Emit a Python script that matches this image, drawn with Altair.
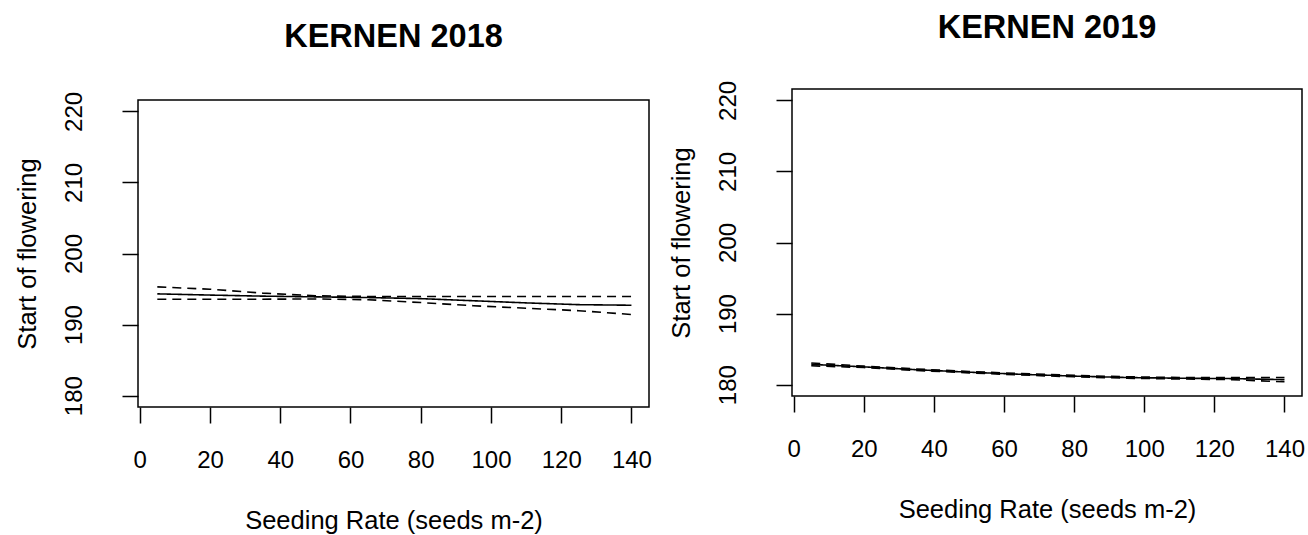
import altair as alt
import pandas as pd

# ---- data ----
seed_rate = [5, 20, 35, 50, 65, 80, 95, 110, 125, 140]

fit_2018 = [194.32, 194.15, 194.00, 193.90, 193.80, 193.65, 193.35, 193.05, 192.80, 192.72]
upper_2018 = [195.30, 194.98, 194.42, 194.05, 193.95, 193.95, 193.95, 193.95, 193.95, 193.95]
lower_2018 = [193.57, 193.57, 193.57, 193.60, 193.50, 193.10, 192.65, 192.30, 191.95, 191.42]

fit_2019 = [182.85, 182.50, 182.10, 181.75, 181.45, 181.20, 181.00, 180.90, 180.85, 180.70]
upper_2019 = [183.05, 182.60, 182.20, 181.85, 181.55, 181.30, 181.10, 181.00, 180.98, 181.00]
lower_2019 = [182.65, 182.40, 182.00, 181.65, 181.35, 181.10, 180.90, 180.80, 180.70, 180.40]

x_ticks = [0, 20, 40, 60, 80, 100, 120, 140]
y_ticks = [180, 190, 200, 210, 220]

FONT = "Liberation Sans"


def long_df(fit, upper, lower):
    rows = []
    for name, vals in (("fit", fit), ("upper", upper), ("lower", lower)):
        for r, v in zip(seed_rate, vals):
            rows.append({"rate": r, "value": v, "series": name})
    return pd.DataFrame(rows)


def panel(title, fit, upper, lower, width, height, top, title_offset):
    df = long_df(fit, upper, lower)
    x = alt.X(
        "rate:Q",
        scale=alt.Scale(domain=[-0.5, 145], nice=False, zero=False),
        axis=alt.Axis(
            values=x_ticks, format="d", domain=False, grid=False,
            tickSize=16, tickWidth=1.5, tickColor="black",
            labelFont=FONT, labelFontSize=24, labelColor="black",
            labelBaseline="alphabetic", labelPadding=44, labelFlush=False,
            labelOverlap=False,
            title="Seeding Rate (seeds m-2)", titleFont=FONT, titleFontSize=25.5,
            titleFontWeight="normal", titleColor="black",
            titleBaseline="alphabetic", titleAlign="center",
            titleX=width / 2, titleY=121,
        ),
    )
    y = alt.Y(
        "value:Q",
        scale=alt.Scale(domain=[178.4, 221.6], nice=False, zero=False,
                        range=[height, top]),
        axis=alt.Axis(
            values=y_ticks, format="d", domain=False, grid=False,
            tickSize=16, tickWidth=1.5, tickColor="black",
            labelFont=FONT, labelFontSize=24, labelColor="black",
            labelAngle=270, labelAlign="center", labelBaseline="alphabetic",
            labelPadding=40.5, labelOverlap=False,
            title="Start of flowering", titleFont=FONT, titleFontSize=25.5,
            titleFontWeight="normal", titleColor="black",
            titleAngle=270, titleAlign="center", titleBaseline="alphabetic",
            titleX=-103, titleY=(height + top) / 2,
        ),
    )
    lines = alt.Chart(df).mark_line(color="black", strokeWidth=1.6).encode(
        x=x, y=y,
        strokeDash=alt.StrokeDash(
            "series:N",
            scale=alt.Scale(domain=["fit", "upper", "lower"],
                            range=[[1, 0], [9, 6], [9, 6]]),
            legend=None,
        ),
        detail="series:N",
    )
    box = alt.Chart(pd.DataFrame({"a": [0]})).mark_rect(
        fillOpacity=0, stroke="black", strokeWidth=1.5
    ).encode(
        x=alt.value(0), x2=alt.value(width),
        y=alt.value(top), y2=alt.value(height),
    )
    return alt.layer(lines, box).properties(
        width=width, height=height,
        title=alt.TitleParams(
            text=title, font=FONT, fontSize=32.5, fontWeight="bold",
            color="black", anchor="middle", frame="group",
            offset=title_offset, baseline="alphabetic",
        ),
    )


left = panel("KERNEN 2018", fit_2018, upper_2018, lower_2018,
             width=511, height=318, top=11, title_offset=9.6)
right = panel("KERNEN 2019", fit_2019, upper_2019, lower_2019,
              width=510, height=307, top=0, title_offset=9.6)

chart = alt.hconcat(left, right, spacing=17).properties(
    padding={"left": 15, "top": 12, "right": 0, "bottom": 0},
    background="white",
).configure_view(strokeWidth=0)

chart.save("out.html", embed_options={"renderer": "svg", "actions": False})
